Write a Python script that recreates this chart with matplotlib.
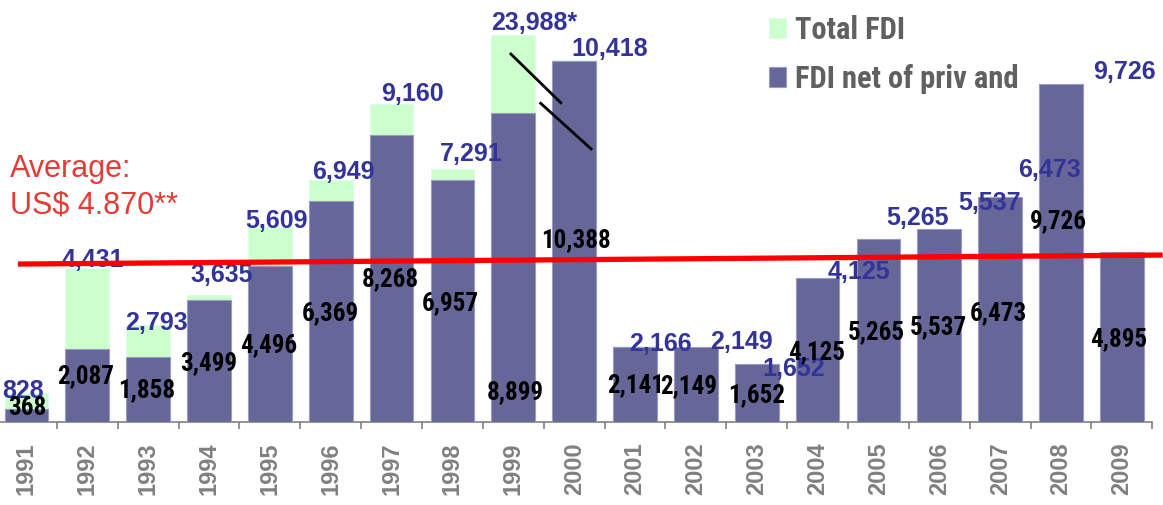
import matplotlib
matplotlib.use("Agg")
import matplotlib.pyplot as plt
from matplotlib.lines import Line2D
from matplotlib import font_manager as fm

# ---------------- data ----------------
years = ["1991", "1992", "1993", "1994", "1995", "1996", "1997", "1998", "1999", "2000",
         "2001", "2002", "2003", "2004", "2005", "2006", "2007", "2008", "2009"]
total_fdi = [828, 4431, 2793, 3635, 5609, 6949, 9160, 7291, 23988, 10418,
             2166, 2149, 1652, 4125, 5265, 5537, 6473, 9726, 4895]
net_fdi = [368, 2087, 1858, 3499, 4496, 6369, 8268, 6957, 8899, 10388,
           2141, 2149, 1652, 4125, 5265, 5537, 6473, 9726, 4895]
total_labels = ["828", "4,431", "2,793", "3,635", "5,609", "6,949", "9,160", "7,291", "23,988*",
                "10,418", "2,166", "2,149", "1,652", "4,125", "5,265", "5,537", "6,473", "9,726", ""]
net_labels = ["368", "2,087", "1,858", "3,499", "4,496", "6,369", "8,268", "6,957", "8,899",
              "10,388", "2,141", "2,149", "1,652", "4,125", "5,265", "5,537", "6,473", "9,726", "4,895"]
avg_text = ["Average:", "US$ 4.870**"]
avg_line_ends = [4540, 4800]          # drawn (hand-placed) average line, as in the picture
legend_names = ["Total FDI", "FDI net of priv and"]

# ---------------- style / layout ----------------
W, H, DPI = 1163, 505, 100
Y_TOP = 12145
BREAK_DISPLAY = 11140                 # 1999 bar drawn broken at this height
GREEN = "#ccffcc"
PURPLE = "#666699"
BLUE = "#333399"
GRAY = "#808080"
RED_TXT = "#e63a36"
REG = ["Liberation Sans", "DejaVu Sans"]

# look for a narrow / condensed sans (Arial Narrow look-alike)
narrow_family = None
names = {f.name for f in fm.fontManager.ttflist}
for cand in ["Liberation Sans Narrow", "Arial Narrow", "Roboto Condensed",
             "DejaVu Sans Condensed", "Open Sans Condensed", "Noto Sans Condensed"]:
    if cand in names:
        narrow_family = cand
        break
if narrow_family is None:
    for f in fm.fontManager.ttflist:
        if f.stretch in ("condensed", "semi-condensed") and "Mono" not in f.name \
                and "Serif" not in f.name:
            narrow_family = f.name
            break

if narrow_family:
    NARROW = [narrow_family, "Liberation Sans", "DejaVu Sans"]
    LEG_SIZE, BLACK_SIZE = 22, 18
    LEG_ANCHOR_Y, LEG_SPACING = 15, 0.62
    HL, HH, HTP = 0.56, 0.62, 0.3
else:
    NARROW = REG
    LEG_SIZE, BLACK_SIZE = 19, 16.5
    LEG_ANCHOR_Y, LEG_SPACING = 17, 0.86
    HL, HH, HTP = 0.64, 0.72, 0.34

# label offsets in pixels (right, down) as placed in the reference
blue_dx = [-3.4, 5.7, 7.8, 12.6, 6.6, 12.8, 20.8, 19.2, 21, 36, 25, 46, 37, 41, 39, 50, 49, 63.5, 0]
blue_dy = [4.6, -0.4, 5, -13, 1.4, -1.3, -3, -7.4, -5, -3.7, 4.7, 1.7, 12, 1, -13.5, -19, -19.7, -5.2, 0]
black_dx = [1, -2, -1.5, -0.7, -1, 0, -1, -2, 2, 2, 1, -7, 0, -1, -2, -1, -2, -2.5, -3.4]
black_dy = [-0.3, -2.3, 8.2, 9.7, 9, 9, 8, 9, 132.3, 6, 8, 9, 9, 9, 9, 9, 11, -24.4, 9]
PX = 72.0 / DPI

fig = plt.figure(figsize=(W / DPI, H / DPI), dpi=DPI)
ax = fig.add_axes([-4 / W, (H - 421.7) / H, 1156.3 / W, 421.7 / H])
x = list(range(len(years)))
shown_total = [min(v, BREAK_DISPLAY) for v in total_fdi]

g = ax.bar(x, shown_total, width=0.72, color=GREEN, edgecolor="#d8fff0", linewidth=0.8, zorder=2)
p = ax.bar(x, net_fdi, width=0.72, color=PURPLE, edgecolor="#9a9ac4", linewidth=0.8, zorder=3)

ax.set_xlim(-0.5, len(years) - 0.5)
ax.set_ylim(0, Y_TOP)
for s in ["top", "left", "right"]:
    ax.spines[s].set_visible(False)
ax.spines["bottom"].set_color(GRAY)
ax.spines["bottom"].set_linewidth(1.2)
ax.set_yticks([])
ax.set_xticks(x)
ax.set_xticklabels(years, rotation=90, fontsize=17, fontweight="bold", color=GRAY, family=REG)
ax.tick_params(axis="x", which="major", length=0, pad=15)
ax.set_xticks([i + 0.5 for i in range(-1, len(years))], minor=True)
ax.tick_params(axis="x", which="minor", length=5, width=1.2, color=GRAY, direction="out")

# value labels
for i in x:
    if total_labels[i]:
        ax.annotate(total_labels[i], xy=(i, shown_total[i]),
                    xytext=(blue_dx[i] * PX, -blue_dy[i] * PX), textcoords="offset points",
                    ha="center", va="baseline", fontsize=18, fontweight="bold",
                    color=BLUE, family=REG, zorder=5, annotation_clip=False)
    ax.annotate(net_labels[i], xy=(i, net_fdi[i] / 2),
                xytext=(black_dx[i] * PX, -black_dy[i] * PX), textcoords="offset points",
                ha="center", va="baseline", fontsize=BLACK_SIZE, fontweight="bold",
                color="black", family=NARROW, zorder=6, annotation_clip=False)

# axis-break marks on the 1999 bar
bi = total_fdi.index(max(total_fdi))
for (x0, y0, x1, y1) in [(-0.04, 10590, 0.78, 9187), (0.45, 9170, 1.28, 7854)]:
    ax.add_line(Line2D([bi + x0, bi + x1], [y0, y1], color="black", lw=2.0, zorder=7,
                       clip_on=False))

# average line
ax.add_line(Line2D([-0.14, len(years) - 0.33], avg_line_ends, color="#ff0000", lw=3.8,
                   zorder=8, clip_on=False, solid_capstyle="butt"))
fig.text(10 / W, 1 - 176.7 / H, avg_text[0], fontsize=22, color=RED_TXT, family=REG,
         ha="left", va="baseline")
fig.text(10 / W, 1 - 213.3 / H, avg_text[1], fontsize=22, color=RED_TXT, family=REG,
         ha="left", va="baseline")

# legend
leg = ax.legend([g, p], legend_names, loc="upper left",
                bbox_to_anchor=(769 / W, 1 - LEG_ANCHOR_Y / H), bbox_transform=fig.transFigure,
                frameon=False, borderpad=0, borderaxespad=0, handlelength=HL,
                handleheight=HH, handletextpad=HTP, labelspacing=LEG_SPACING,
                prop={"family": NARROW, "weight": "bold", "size": LEG_SIZE})
for t in leg.get_texts():
    t.set_color("#606060")

fig.savefig("out.png", dpi=DPI)
